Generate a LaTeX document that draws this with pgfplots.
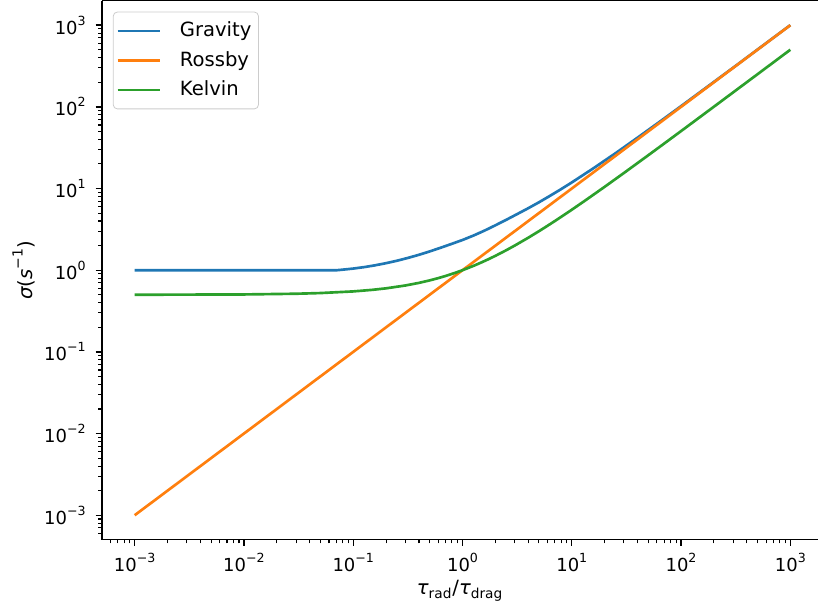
\documentclass[border=0pt]{standalone}
\usepackage{fontspec}
\setmainfont{DejaVu Sans}
\usepackage{pgfplots}
\pgfplotsset{compat=1.18}
\definecolor{C0}{HTML}{1F77B4}
\definecolor{C1}{HTML}{FF7F0E}
\definecolor{C2}{HTML}{2CA02C}
\newcommand{\tp}[1]{10\raisebox{0.5em}{\fontsize{6.3pt}{6pt}\selectfont#1}}
\begin{document}
\begin{tikzpicture}
\begin{axis}[
  name=ax,
  xmode=log, ymode=log,
  scale only axis, width=358.5pt, height=269.75pt,
  xmin=5.0119e-4, xmax=1803, ymin=5.0119e-4, ymax=1995.26,
  axis y line*=left,
  xtick pos=left,
  axis line style={line width=0.7pt},
  tick align=outside,
  major tick length=3.1pt, minor tick length=1.8pt,
  every major tick/.append style={line width=0.7pt, black},
  every minor tick/.append style={line width=0.55pt, black},
  xtick={1e-3,1e-2,1e-1,1,10,100,1000},
  ytick={1e-3,1e-2,1e-1,1,10,100,1000},
  xticklabels={\tp{−3},\tp{−2},\tp{−1},\tp{0},\tp{1},\tp{2},\tp{3}},
  yticklabels={\tp{−3},\tp{−2},\tp{−1},\tp{0},\tp{1},\tp{2},\tp{3}},
  minor xtick={6e-4,7e-4,8e-4,9e-4,2e-3,3e-3,4e-3,5e-3,6e-3,7e-3,8e-3,9e-3,2e-2,3e-2,4e-2,5e-2,6e-2,7e-2,8e-2,9e-2,0.2,0.3,0.4,0.5,0.6,0.7,0.8,0.9,2,3,4,5,6,7,8,9,20,30,40,50,60,70,80,90,200,300,400,500,600,700,800,900},
  minor ytick={6e-4,7e-4,8e-4,9e-4,2e-3,3e-3,4e-3,5e-3,6e-3,7e-3,8e-3,9e-3,2e-2,3e-2,4e-2,5e-2,6e-2,7e-2,8e-2,9e-2,0.2,0.3,0.4,0.5,0.6,0.7,0.8,0.9,2,3,4,5,6,7,8,9,20,30,40,50,60,70,80,90,200,300,400,500,600,700,800,900},
  ticklabel style={font=\fontsize{9pt}{10pt}\selectfont},
  yticklabel style={xshift=-1.5pt},
  xlabel={\itshape τ\upshape\textsubscript{rad}/\itshape τ\upshape\textsubscript{drag}},
  ylabel={\itshape σ\upshape(\itshape s\upshape\raisebox{0.5em}{\fontsize{7pt}{7pt}\selectfont −1})},
  label style={font=\fontsize{9.8pt}{11pt}\selectfont},
  xlabel style={at={(axis description cs:0.5,-0.0945)}, anchor=center},
  ylabel style={at={(axis description cs:-0.109,0.5)}, anchor=center},
  legend cell align=left,
  legend image code/.code={\draw[#1] (0pt,0pt) -- (21pt,0pt);},
  legend style={at={(axis description cs:0,1)}, anchor=north west, xshift=5.5pt, yshift=-5.5pt,
    draw=black!20, rounded corners=2pt, fill=white, fill opacity=0.8, text opacity=1,
    font=\fontsize{9.8pt}{11.8pt}\selectfont, inner xsep=1.5pt, inner ysep=3pt,
    row sep=1.8pt, column sep=7.5pt},
]
\addplot[C0, line width=1.33pt] coordinates {
(0.001,1) (0.01,1) (0.03,1) (0.05,1) (0.0708,1) (0.0794,1.014) (0.1,1.047) (0.1259,1.091) (0.1585,1.148) (0.1995,1.219) (0.2512,1.306) (0.3162,1.413) (0.3981,1.542) (0.5012,1.698) (0.631,1.884) (0.7943,2.099) (1,2.344) (1.259,2.655) (1.585,3.048) (1.995,3.54) (2.512,4.14) (3.162,4.863) (3.981,5.725) (5.012,6.79) (6.31,8.127) (7.943,9.788) (10,11.87) (15.85,17.77) (25.12,27.04) (39.81,41.77) (63.1,65.08) (100,101.98) (316.2,318.0) (1000,1002)
};
\addlegendentry{Gravity}
\addplot[C1, line width=1.33pt] coordinates {
(0.001,0.001) (1000,1000)
};
\addlegendentry{Rossby}
\addplot[C2, line width=1.33pt] coordinates {
(0.001,0.5005) (0.01,0.505) (0.03,0.515) (0.05,0.525) (0.1,0.55) (0.15,0.575) (0.2,0.6) (0.3,0.65) (0.4,0.7) (0.5,0.75) (0.6,0.8) (0.7,0.85) (0.85,0.925) (1,1.0) (1.25,1.125) (1.5,1.25) (1.75,1.375) (2,1.5) (2.5,1.75) (3,2.0) (4,2.5) (5,3.0) (6,3.5) (7,4.0) (8.5,4.75) (10,5.5) (13,7.0) (20,10.5) (30,15.5) (50,25.5) (70,35.5) (100,50.5) (200,100.5) (500,250.5) (1000,500.5)
};
\addlegendentry{Kelvin}
\end{axis}
\path (ax.south west) ++(-51pt,-36pt);
\end{tikzpicture}
\end{document}
